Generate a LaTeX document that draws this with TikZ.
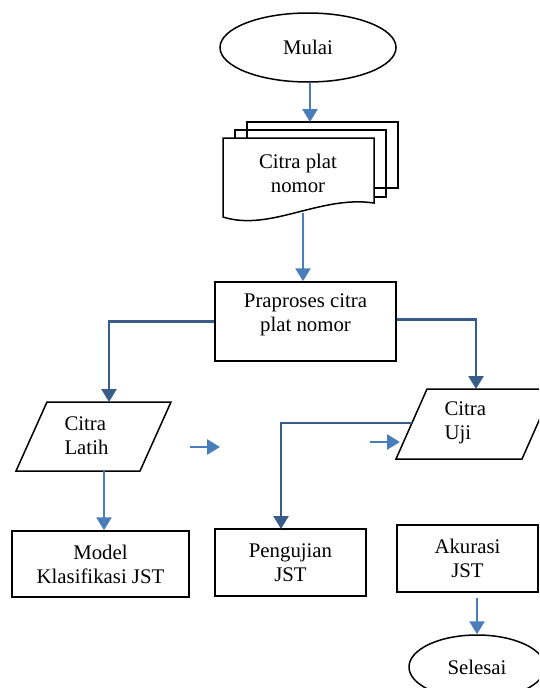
\documentclass[tikz,border=0pt]{standalone}
\usepackage{fontspec}
\setmainfont{Liberation Serif}
\usetikzlibrary{arrows.meta,shapes.geometric}
\definecolor{panahmuda}{HTML}{4A7EBB}
\definecolor{panahtua}{HTML}{385D8A}
\begin{document}
\begin{tikzpicture}[x=1pt,y=-1pt,line join=miter,
	every node/.style={font=\fontsize{20.8pt}{24pt}\selectfont},
	kotak/.style={draw,line width=1.5pt,align=center,inner sep=0pt},
	garis/.style={draw,line width=1.5pt,fill=white},
	panah/.style={-{Triangle[length=13pt,width=15pt]},line width=2.6pt,draw=panahmuda},
	panahgelap/.style={panah,draw=panahtua}]
	\useasboundingbox (0,0) rectangle (539,688);
	\clip (0,0) rectangle (539,688);
	\pgfmathsetmacro{\ms}{31}
	\node[kotak,ellipse,minimum width=176pt,minimum height=69pt] (mulai) at (308,47.5) {Mulai};
	\draw[garis] (247,122) rectangle (398,188) (235,130) rectangle (386,197);
	\draw[garis] (223,217) -- (223,138) -- (374,138) -- (374,203) .. controls (320,195) and (270,232) .. (223,217) -- cycle;
	\node[align=center] (dokumen) at (298,173) {Citra plat\\nomor};
	\node[kotak,minimum width=181pt,minimum height=79pt,text depth=17pt] (praproses) at (305.5,321.5) {Praproses citra\\plat nomor};
	\draw[garis] (47,402) -- (171,402) -- (140,471) -- (16,471) -- cycle;
	\node[align=left,anchor=west] (latih) at (61,436) {Citra\\Latih};
	\draw[garis] (427,389) -- (427+126,389) -- (396+126,459) -- (396,459) -- cycle;
	\node[align=left,anchor=west] (uji) at (441,423) {Citra\\Uji};
	\node[kotak,minimum width=177pt,minimum height=66pt] (model) at (100.5,564) {Model\\Klasifikasi JST};
	\node[kotak,minimum width=151pt,minimum height=67pt] (pengujian) at (290.5,562.5) {Pengujian\\JST};
	\node[kotak,minimum width=141pt,minimum height=67pt] (akurasi) at (467.5,558.5) {Akurasi\\JST};
	\node[kotak,ellipse,minimum width=136pt,minimum height=64pt] (selesai) at (477,667) {Selesai};
	\coordinate (dokatas) at (310,122);
	\coordinate (dokbawah) at (303,213);
	\coordinate (latihatas) at (109,402);
	\coordinate (latihbawah) at (104,471);
	\coordinate (ujiatas) at (476,389);
	\coordinate (ujikiri) at (412,423);
	\coordinate (pengatas) at (281,529);
	\coordinate (p1) at (190,447); \coordinate (p2) at (220,447);
	\coordinate (p3) at (370,442); \coordinate (p4) at (400,442);
	\draw[panah] (mulai.south -| dokatas) -- (dokatas);
	\draw[panah] (dokbawah) -- (dokbawah |- praproses.north);
	\draw[panahgelap] (praproses.west) -| (latihatas);
	\draw[panahgelap] ([yshift=2pt]praproses.east) -| (ujiatas);
	\draw[panahgelap] (ujikiri) -| (pengatas);
	\draw[panah] (p1) -- (p2);
	\draw[panah] (p3) -- (p4);
	\draw[panah] (latihbawah) -- (latihbawah |- model.north);
	\draw[panah,shorten <=5pt] (selesai.north |- akurasi.south) -- (selesai.north);
\end{tikzpicture}
\end{document}
